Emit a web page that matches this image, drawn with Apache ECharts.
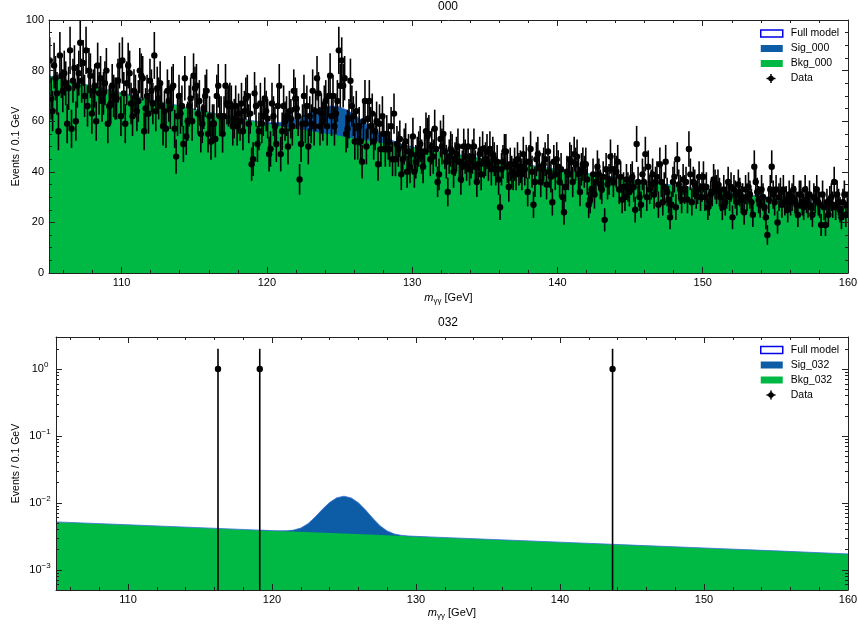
<!DOCTYPE html>
<html><head><meta charset="utf-8">
<script src="https://cdn.jsdelivr.net/npm/echarts@6/dist/echarts.min.js"></script>
<style>html,body{margin:0;padding:0;background:#fff}#c{width:858px;height:628px}</style>
</head><body><div id="c"></div>
<script>
// ---------- tick definitions ----------
const xMajorTicks = [110, 120, 130, 140, 150, 160];
const xMinorTicks = [106, 108, 112, 114, 116, 118, 122, 124, 126, 128, 132, 134, 136, 138, 142, 144, 146, 148, 152, 154, 156, 158];
const logMajorTicks = [0.001, 0.01, 0.1, 1];
const logMinorTicks = [0.0005, 0.0006, 0.0007, 0.0008, 0.0009,
  0.002, 0.003, 0.004, 0.005, 0.006, 0.007, 0.008, 0.009,
  0.02, 0.03, 0.04, 0.05, 0.06, 0.07, 0.08, 0.09,
  0.2, 0.3, 0.4, 0.5, 0.6, 0.7, 0.8, 0.9, 2, 3];

// ---------- category 000 ----------
const binLo000 = 105, binWidth000 = 0.1;
const counts000 = [
  84,69,64,82,77,71,56,86,78,72,
  79,75,59,73,88,57,76,81,60,74,
  79,91,76,83,70,88,66,80,78,63,
  72,74,60,82,71,77,68,71,75,80,
  59,66,67,74,70,69,69,76,82,62,
  84,71,59,75,82,79,67,62,72,70,
  64,68,80,78,77,56,65,70,63,76,
  72,67,86,64,73,69,75,66,58,64,
  57,72,68,65,73,74,57,46,62,70,
  63,66,51,77,54,60,66,69,60,78,
  73,74,63,68,55,59,65,70,72,55,
  62,52,59,59,53,70,74,62,62,55,
  62,74,67,66,67,66,58,61,66,58,
  63,60,67,56,64,69,70,59,63,43,
  45,71,66,51,56,67,59,62,69,64,
  61,47,49,67,62,58,51,66,74,47,
  56,66,60,62,50,64,61,58,72,69,
  65,62,37,51,59,70,59,66,50,62,
  59,72,58,64,77,71,58,63,60,66,
  68,58,70,78,62,70,58,63,68,88,
  74,84,74,77,55,57,61,76,66,62,
  52,64,52,58,52,44,60,68,50,61,
  68,58,63,52,56,60,43,59,49,62,
  55,49,55,52,49,58,45,63,45,51,
  49,53,39,45,50,52,40,48,42,47,
  54,40,44,47,49,51,46,42,48,56,
  54,55,45,50,46,57,49,36,39,53,
  50,55,48,44,32,46,49,48,40,45,
  47,50,44,37,42,50,46,43,50,41,
  44,46,50,42,36,43,47,39,49,44,
  45,48,43,49,41,47,45,41,44,37,
  26,41,44,48,48,42,34,43,40,39,
  43,39,45,41,42,39,47,41,44,32,
  44,49,40,27,36,45,47,42,36,41,
  43,45,35,48,40,38,28,44,39,45,
  42,36,41,30,24,34,40,39,45,44,
  36,47,43,46,39,32,41,43,40,43,
  37,27,29,33,39,31,36,42,39,35,
  33,38,21,41,35,37,46,41,36,41,
  40,44,33,38,29,34,30,37,34,32,
  37,38,34,25,51,36,30,27,39,36,
  47,30,42,33,35,39,31,36,38,27,
  43,36,28,34,44,32,29,22,27,36,
  38,26,45,35,33,29,37,33,36,29,
  49,39,28,36,35,31,33,38,30,34,
  38,30,34,26,28,31,32,37,35,33,
  35,32,30,26,33,28,31,36,30,34,
  22,33,31,28,35,32,29,30,24,33,
  30,34,31,28,23,42,36,32,29,27,
  33,30,26,22,15,29,33,42,31,28,
  33,20,30,32,27,33,28,29,25,31,
  28,30,33,29,27,23,31,31,28,26,
  33,29,27,31,26,23,30,29,33,28,
  27,19,31,26,19,28,23,29,30,27,
  36,26,31,28,25,22,28,31,23,27
];
// model curves on a 0.5 GeV grid starting at 105
const modelLo000 = 105, modelStep000 = 0.5;
const bkg000 = [
  78.0,77.3,76.6,75.9,75.2,74.6,73.9,73.2,72.5,71.9,71.2,
  70.5,69.9,69.2,68.6,68.0,67.3,66.7,66.1,65.4,64.8,
  64.2,63.6,63.0,62.4,61.9,61.3,60.7,60.1,59.6,59.0,
  58.5,58.0,57.5,57.0,56.6,56.1,55.6,55.1,54.7,54.2,
  53.7,53.3,52.8,52.4,51.9,51.4,51.0,50.5,50.1,49.6,
  49.2,48.7,48.3,47.8,47.4,47.0,46.5,46.1,45.6,45.2,
  44.8,44.4,43.9,43.5,43.1,42.7,42.3,41.8,41.4,41.0,
  40.6,40.2,39.8,39.4,39.0,38.6,38.2,37.8,37.4,37.0,
  36.6,36.2,35.9,35.5,35.1,34.7,34.3,34.0,33.6,33.2,
  32.8,32.5,32.1,31.7,31.4,31.0,30.7,30.3,30.0,29.6,
  29.3,28.9,28.6,28.2,27.9,27.6,27.2,26.9,26.5,26.2
];
const sigLo000 = 117;   // signal values on the same 0.5 GeV grid, from 117 to 132
const sig000 = [0,0.01,0.02,0.05,0.11,0.23,0.47,0.89,1.56,2.55,
  3.88,5.53,7.34,9.1,10.5,11.36,11.44,10.74,9.42,7.71,
  5.88,4.19,2.79,1.73,1.0,0.54,0.27,0.13,0.05,0.02,0];

// ---------- category 032 ----------
const bkgX032 = [105,110,115,120,125,130,135,140,145,150,155,160];
const bkg032 = [5.2e-3,4.71e-3,4.26e-3,3.85e-3,3.49e-3,3.16e-3,2.86e-3,2.59e-3,2.34e-3,2.12e-3,1.92e-3,1.73e-3];
const fullX032 = [119,119.5,120,120.5,121,121.5,122,122.5,123,123.5,124,124.5,125,125.5,126,126.5,127,127.5,128,128.5,129,129.5,130,130.5,131];
const full032 = [3.93e-3,3.89e-3,3.85e-3,3.83e-3,3.83e-3,3.92e-3,4.21e-3,4.89e-3,6.15e-3,8.02e-3,10.16e-3,11.92e-3,12.59e-3,11.86e-3,10.03e-3,7.82e-3,5.88e-3,4.55e-3,3.80e-3,3.43e-3,3.27e-3,3.20e-3,3.16e-3,3.13e-3,3.10e-3];
const dataX032 = [116.25, 119.15, 143.65];
const counts032 = [1, 1, 1];

// ---------- styling ----------
const FONT = '"Liberation Sans", Arial, Helvetica, sans-serif';
const AX = '#222';
const GREEN = '#00b944';
const BLUE = '#0d5ca6';
const LINEBLUE = '#3a6fd8';
const LOGMIN = 0.0005, LOGMAX = 3;

// ---------- derived series data ----------
const dataPts000 = counts000.map((n, i) => [+(binLo000 + binWidth000 * (i + 0.5)).toFixed(2), n]);
const bkgPts000 = bkg000.map((v, i) => [modelLo000 + modelStep000 * i, v]);
const sigOffset = Math.round((sigLo000 - modelLo000) / modelStep000);
const fullPts000 = bkg000.map((v, i) => {
  const j = i - sigOffset;
  return [modelLo000 + modelStep000 * i, +(v + (j >= 0 && j < sig000.length ? sig000[j] : 0)).toFixed(3)];
});
const sigAreaPts000 = fullPts000.slice(sigOffset, sigOffset + sig000.length);

const bkgPts032 = bkgX032.map((x, i) => [x, bkg032[i]]);
const fullAreaPts032 = fullX032.map((x, i) => [x, full032[i]]);
const fullLinePts032 = bkgPts032.filter(p => p[0] < fullX032[0])
  .concat(fullAreaPts032)
  .concat(bkgPts032.filter(p => p[0] > fullX032[fullX032.length - 1]));
const dataPts032 = dataX032.map((x, i) => [x, counts032[i]]);

// ---------- axes ----------
const xNameRich = {
  i: { fontStyle: 'italic', fontSize: 11, fontFamily: FONT, color: '#000' },
  s: { fontSize: 8, fontFamily: FONT, color: '#000', padding: [6, 0, 0, 0] }
};
function xAxes(g, nameGap) {
  const base = { type: 'value', gridIndex: g, min: 105, max: 160, splitLine: { show: false }, z: 20 };
  const tick = (vals, len) => ({ show: true, inside: true, length: len, customValues: vals, lineStyle: { color: AX, width: 1 } });
  return [
    Object.assign({}, base, {
      position: 'bottom',
      axisLine: { show: true, lineStyle: { color: AX, width: 1 } },
      axisTick: tick(xMajorTicks, 6),
      axisLabel: { customValues: xMajorTicks, margin: 4, color: '#000', fontSize: 11, fontFamily: FONT },
      name: '{i|m}{s|γγ} [GeV]', nameLocation: 'middle', nameGap: nameGap, nameMoveOverlap: false,
      nameTextStyle: { fontSize: 11, fontFamily: FONT, color: '#000', rich: xNameRich }
    }),
    Object.assign({}, base, { position: 'bottom', axisLine: { show: false }, axisTick: tick(xMinorTicks, 3), axisLabel: { show: false } }),
    Object.assign({}, base, { position: 'top', axisLine: { show: true, lineStyle: { color: AX, width: 1 } }, axisTick: tick(xMajorTicks, 6), axisLabel: { show: false } }),
    Object.assign({}, base, { position: 'top', axisLine: { show: false }, axisTick: tick(xMinorTicks, 3), axisLabel: { show: false } })
  ];
}
const yName = (gap) => ({
  name: 'Events / 0.1 GeV', nameLocation: 'middle', nameGap: gap, nameMoveOverlap: false,
  nameTextStyle: { fontSize: 10.5, fontFamily: FONT, color: '#000' }
});
const linY = (pos, labels) => Object.assign({
  type: 'value', gridIndex: 0, position: pos, min: 0, max: 100, interval: 20, z: 20,
  splitLine: { show: false },
  axisLine: { show: true, lineStyle: { color: AX, width: 1 } },
  axisTick: { show: true, inside: true, length: 6, lineStyle: { color: AX } },
  minorTick: { show: true, splitNumber: 4, length: 3, lineStyle: { color: AX } },
  axisLabel: labels ? { margin: 5, color: '#000', fontSize: 11, fontFamily: FONT } : { show: false }
}, labels ? yName(27) : {});
const logLabel = {
  customValues: logMajorTicks, margin: 16, align: 'center',
  formatter: v => { const e = Math.round(Math.log10(v)); return '{b|10}{s|' + (e < 0 ? '\u2212' + (-e) : e) + '}'; },
  rich: {
    b: { fontSize: 11, fontFamily: FONT, color: '#000' },
    s: { fontSize: 8, fontFamily: FONT, color: '#000', padding: [0, 0, 8, 0] }
  }
};
const logY = (pos, vals, len, line, labels) => Object.assign({
  type: 'log', logBase: 10, gridIndex: 1, position: pos, min: LOGMIN, max: LOGMAX, z: 20,
  splitLine: { show: false },
  axisLine: { show: line, lineStyle: { color: AX, width: 1 } },
  axisTick: { show: true, inside: true, length: len, customValues: vals, lineStyle: { color: AX } },
  minorTick: { show: false },
  axisLabel: labels ? logLabel : { show: false }
}, labels ? yName(34) : {});

// ---------- renderers ----------
function errRender(yMin) {
  return function (params, api) {
    const x = api.value(0), n = api.value(1), e = Math.sqrt(n);
    const c = api.coord([x, n]);
    const hi = api.coord([x, n + e]);
    const lo = api.coord([x, Math.max(n - e, yMin)]);
    return {
      type: 'group', children: [
        { type: 'line', shape: { x1: c[0], y1: hi[1], x2: c[0], y2: lo[1] }, style: { stroke: '#000', lineWidth: 1.6 } },
        { type: 'circle', shape: { cx: c[0], cy: c[1], r: 3.2 }, style: { fill: '#000' } }
      ]
    };
  };
}
const area = (name, xi, yi, data, color, z) => ({
  name, type: 'line', xAxisIndex: xi, yAxisIndex: yi, data, showSymbol: false, symbol: 'none', z,
  silent: true, lineStyle: { width: 0 }, itemStyle: { color },
  areaStyle: { color, opacity: 1, origin: 'start' }
});
const modelLine = (xi, yi, data) => ({
  name: 'Full model', type: 'line', xAxisIndex: xi, yAxisIndex: yi, data, showSymbol: false, symbol: 'none', z: 4,
  silent: true, lineStyle: { width: 0.8, color: LINEBLUE }, itemStyle: { color: LINEBLUE }
});
const dataSeries = (xi, yi, data, yMin) => ({
  name: 'Data', type: 'custom', xAxisIndex: xi, yAxisIndex: yi, data, clip: true, silent: true, z: 10,
  itemStyle: { color: '#000' }, renderItem: errRender(yMin)
});

const LEG_LEFT = 760, LEG_TOP = [27.5, 344];
const legend = (top, sig, bkg) => ({
  left: LEG_LEFT, top, orient: 'vertical', itemWidth: 22, itemHeight: 7, itemGap: 3, padding: 0,
  selectedMode: false,
  textStyle: { fontSize: 10.5, fontFamily: FONT, color: '#000', lineHeight: 12, padding: [0, 0, 0, 3] },
  data: [
    { name: 'Full model', icon: 'rect', itemStyle: { color: '#fff', borderColor: '#0000ee', borderWidth: 1.5 } },
    { name: sig, icon: 'rect', itemStyle: { color: BLUE, borderWidth: 0 } },
    { name: bkg, icon: 'rect', itemStyle: { color: GREEN, borderWidth: 0 } },
    { name: 'Data', icon: 'none' }
  ]
});
// legend marker for "Data" (error-bar cross), placed in the 4th legend row
const dataIcon = (top) => {
  const cx = LEG_LEFT + 11, cy = top + 3 * 15 + 6;
  return { type: 'group', z: 100, children: [
    { type: 'line', shape: { x1: cx - 4.5, y1: cy, x2: cx + 4.5, y2: cy }, style: { stroke: '#000', lineWidth: 1.5 } },
    { type: 'line', shape: { x1: cx, y1: cy - 4.5, x2: cx, y2: cy + 4.5 }, style: { stroke: '#000', lineWidth: 1.5 } },
    { type: 'circle', shape: { cx, cy, r: 2.8 }, style: { fill: '#000' } }
  ] };
};

const option = {
  animation: false,
  backgroundColor: '#fff',
  textStyle: { fontFamily: FONT },
  grid: [
    { left: 49, top: 20, width: 799, height: 253, outerBoundsMode: 'none' },
    { left: 56, top: 337, width: 792, height: 253, outerBoundsMode: 'none' }
  ],
  graphic: [
    { type: 'text', x: 448, y: 7, style: { text: '000', align: 'center', verticalAlign: 'middle', fontSize: 12, fontFamily: FONT, fill: '#000' } },
    { type: 'text', x: 448, y: 323, style: { text: '032', align: 'center', verticalAlign: 'middle', fontSize: 12, fontFamily: FONT, fill: '#000' } },
    dataIcon(LEG_TOP[0]), dataIcon(LEG_TOP[1])
  ],
  legend: [legend(LEG_TOP[0], 'Sig_000', 'Bkg_000'), legend(LEG_TOP[1], 'Sig_032', 'Bkg_032')],
  xAxis: xAxes(0, 18).concat(xAxes(1, 16)),
  yAxis: [
    linY('left', true), linY('right', false),
    logY('left', logMajorTicks, 6, true, true), logY('left', logMinorTicks, 3, false, false),
    logY('right', logMajorTicks, 6, true, false), logY('right', logMinorTicks, 3, false, false)
  ],
  series: [
    area('Sig_000', 0, 0, sigAreaPts000, BLUE, 1),
    area('Bkg_000', 0, 0, bkgPts000, GREEN, 2),
    modelLine(0, 0, fullPts000),
    dataSeries(0, 0, dataPts000, 0),
    area('Sig_032', 4, 2, fullAreaPts032, BLUE, 1),
    area('Bkg_032', 4, 2, bkgPts032, GREEN, 2),
    modelLine(4, 2, fullLinePts032),
    dataSeries(4, 2, dataPts032, LOGMIN)
  ]
};
const chart = echarts.init(document.getElementById('c'), null, { renderer: 'canvas' });
chart.setOption(option);
</script></body></html>
